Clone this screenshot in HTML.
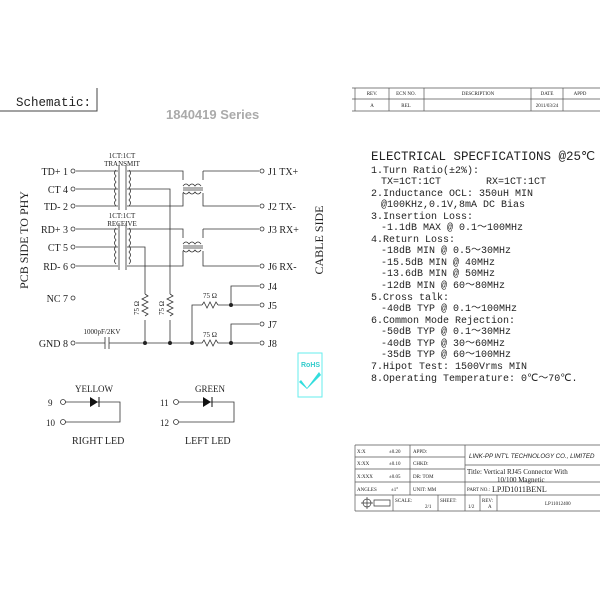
<!DOCTYPE html>
<html><head><style>body{margin:0;background:#fff}svg{display:block}text{font-family:"Liberation Serif",serif;fill:#222}text.m{font-family:"Liberation Mono",monospace}</style></head><body>
<svg width="600" height="600" viewBox="0 0 600 600" xmlns="http://www.w3.org/2000/svg">
<path d="M0 111 H97 V88" stroke="#444" fill="none"/>
<text class="m" x="16" y="106" font-size="12.5">Schematic:</text>
<text x="166" y="119" font-size="13" font-weight="bold" style="fill:#aaa;font-family:'Liberation Sans',sans-serif">1840419 Series</text>
<g stroke="#555" fill="none" stroke-width="0.7">
<path d="M352 88 H600 M352 99 H600 M352 111 H600 M355 88V111 M389 88V111 M424 88V111 M531 88V111 M563 88V111"/>
</g>
<g font-size="5" text-anchor="middle"><text x="372" y="95">REV.</text><text x="406" y="95">ECN NO.</text><text x="478" y="95">DESCRIPTION</text><text x="547" y="95">DATE</text><text x="580" y="95">APPD</text>
<text x="372" y="107">A</text><text x="406" y="107">REL</text><text x="547" y="107">2011/03/24</text></g>
<g stroke="#333" fill="none" stroke-width="0.8">
<path d="M76 171H118 M76 189H118 M76 206H118 M76 229H118 M76 247H118 M76 266H118"/>
<path d="M127 171H183V180 M127 189H170V294 M170 320V343 M127 206H183V193 M203 171V180 M203 171H259 M203 193V206H259"/>
<path d="M127 229H183V238 M127 266H183V251 M203 229V238 M203 229H259 M203 251V266H259 M127 247H145V294 M145 320V343"/>
<path d="M76 343H105 M109 343H200 M220 343H259 M192 343V305H202 M218 305H259 M231 305V286H259 M231 343V324H259"/>
<path d="M105 337V349 M109 337V349"/>
<path d="M119 165V210 M126 165V210 M119 223V270 M126 223V270 M183 188H203 M183 190H203 M183 246H203 M183 248H203"/>
<path d="M116 170q-3 3 0 6q-3 3 0 6q-3 3 0 6q-3 3 0 6q-3 3 0 6q-3 3 0 6 M129 170q3 3 0 6q3 3 0 6q3 3 0 6q3 3 0 6q3 3 0 6q3 3 0 6"/>
<path d="M116 228q-3 3 0 6q-3 3 0 6q-3 3 0 6q-3 3 0 6q-3 3 0 6q-3 3 0 6 M129 228q3 3 0 6q3 3 0 6q3 3 0 6q3 3 0 6q3 3 0 6q3 3 0 6"/>
<path d="M183 186q3-4 6 0q3-4 6 0q3-4 6 0 M183 192q3 4 6 0q3 4 6 0q3 4 6 0 M183 244q3-4 6 0q3-4 6 0q3-4 6 0 M183 250q3 4 6 0q3 4 6 0q3 4 6 0"/>
<path d="M145 294l3 2l-6 3l6 3l-6 3l6 3l-6 3l6 3l-3 2 M170 294l3 2l-6 3l6 3l-6 3l6 3l-6 3l6 3l-3 2"/>
<path d="M202 305l2-3l3 6l3-6l3 6l3-6l2 3 M200 343h2l2-3l3 6l3-6l3 6l3-6l2 3h2"/>
</g>
<g fill="#222"><circle cx="145" cy="343" r="2"/><circle cx="170" cy="343" r="2"/><circle cx="192" cy="343" r="2"/><circle cx="231" cy="343" r="2"/><circle cx="231" cy="305" r="2"/></g>
<g fill="#fff" stroke="#333" stroke-width="0.8">
<circle cx="73" cy="171" r="2"/><circle cx="73" cy="189" r="2"/><circle cx="73" cy="206" r="2"/><circle cx="73" cy="229" r="2"/><circle cx="73" cy="247" r="2"/><circle cx="73" cy="266" r="2"/><circle cx="73" cy="298" r="2"/><circle cx="73" cy="343" r="2"/>
<circle cx="262" cy="171" r="2"/><circle cx="262" cy="206" r="2"/><circle cx="262" cy="229" r="2"/><circle cx="262" cy="266" r="2"/><circle cx="262" cy="286" r="2"/><circle cx="262" cy="305" r="2"/><circle cx="262" cy="324" r="2"/><circle cx="262" cy="343" r="2"/>
</g>
<g font-size="10" text-anchor="end"><text x="68" y="175">TD+ 1</text><text x="68" y="193">CT 4</text><text x="68" y="210">TD- 2</text><text x="68" y="233">RD+ 3</text><text x="68" y="251">CT 5</text><text x="68" y="270">RD- 6</text><text x="68" y="302">NC 7</text><text x="68" y="347">GND 8</text></g>
<g font-size="10"><text x="268" y="175">J1 TX+</text><text x="268" y="210">J2 TX-</text><text x="268" y="233">J3 RX+</text><text x="268" y="270">J6 RX-</text><text x="268" y="290">J4</text><text x="268" y="309">J5</text><text x="268" y="328">J7</text><text x="268" y="347">J8</text></g>
<g font-size="7" text-anchor="middle"><text x="122" y="158">1CT:1CT</text><text x="122" y="166">TRANSMIT</text><text x="122" y="218">1CT:1CT</text><text x="122" y="226">RECEIVE</text>
<text x="210" y="298">75 Ω</text><text x="210" y="337">75 Ω</text><text x="102" y="334">1000pF/2KV</text></g>
<text font-size="7" transform="translate(139 308) rotate(-90)" text-anchor="middle">75 Ω</text>
<text font-size="7" transform="translate(164 308) rotate(-90)" text-anchor="middle">75 Ω</text>
<text font-size="12" transform="translate(28 240) rotate(-90)" text-anchor="middle">PCB SIDE TO PHY</text>
<text font-size="12" transform="translate(323 240) rotate(-90)" text-anchor="middle">CABLE SIDE</text>
<g stroke="#333" fill="none" stroke-width="0.8">
<path d="M65 402H120V422H65 M179 402H234V422H179"/></g>
<g fill="#fff" stroke="#333" stroke-width="0.8"><circle cx="63" cy="402" r="2.5"/><circle cx="63" cy="422" r="2.5"/><circle cx="176" cy="402" r="2.5"/><circle cx="176" cy="422" r="2.5"/></g>
<path d="M90 397V407L98 402Z M203 397V407L211 402Z" fill="#111"/>
<path d="M99 397V407 M212 397V407" stroke="#111"/>
<g font-size="9"><text x="75" y="392">YELLOW</text><text x="195" y="392">GREEN</text><text x="48" y="406">9</text><text x="46" y="426">10</text><text x="160" y="406">11</text><text x="160" y="426">12</text></g>
<g font-size="10"><text x="72" y="444">RIGHT LED</text><text x="185" y="444">LEFT LED</text></g>
<rect x="298" y="353" width="24" height="44" fill="#fff" stroke="#6ee" stroke-width="1"/>
<text x="301" y="367" font-size="7" font-weight="bold" style="fill:#3cc;font-family:'Liberation Sans',sans-serif">RoHS</text>
<path d="M301 380l6 8l12-16l2 3l-14 14l-8-7z" fill="#3dd"/>
<g font-size="10">
<text class="m" x="371" y="160" font-size="12.5">ELECTRICAL SPECFICATIONS @25℃</text>
<text class="m" x="371" y="173">1.Turn Ratio(±2%):</text>
<text class="m" x="381" y="184">TX=1CT:1CT</text><text class="m" x="486" y="184">RX=1CT:1CT</text>
<text class="m" x="371" y="196">2.Inductance OCL: 350uH MIN</text>
<text class="m" x="381" y="207">@100KHz,0.1V,8mA DC Bias</text>
<text class="m" x="371" y="219">3.Insertion Loss:</text>
<text class="m" x="381" y="230">-1.1dB MAX @ 0.1～100MHz</text>
<text class="m" x="371" y="242">4.Return Loss:</text>
<text class="m" x="381" y="253">-18dB MIN @ 0.5～30MHz</text>
<text class="m" x="381" y="265">-15.5dB MIN @ 40MHz</text>
<text class="m" x="381" y="276">-13.6dB MIN @ 50MHz</text>
<text class="m" x="381" y="288">-12dB MIN @ 60～80MHz</text>
<text class="m" x="371" y="300">5.Cross talk:</text>
<text class="m" x="381" y="311">-40dB TYP @ 0.1～100MHz</text>
<text class="m" x="371" y="323">6.Common Mode Rejection:</text>
<text class="m" x="381" y="334">-50dB TYP @ 0.1～30MHz</text>
<text class="m" x="381" y="346">-40dB TYP @ 30～60MHz</text>
<text class="m" x="381" y="357">-35dB TYP @ 60～100MHz</text>
<text class="m" x="371" y="369">7.Hipot Test: 1500Vrms MIN</text>
<text class="m" x="371" y="381">8.Operating Temperature: 0℃～70℃.</text>
</g>
<g stroke="#555" fill="none" stroke-width="0.7">
<path d="M355 445H600 M355 457H465 M355 469H465 M355 482H600 M355 495H600 M355 511H600 M355 445V511 M410 445V495 M465 445V511 M465 465H600 M393 495V511 M438 495V511 M480 495V511 M497 495V511"/>
</g>
<g font-size="5"><text x="357" y="453">X:X</text><text x="389" y="453">±0.20</text><text x="413" y="453">APPD:</text>
<text x="357" y="465">X:XX</text><text x="389" y="465">±0.10</text><text x="413" y="465">CHKD:</text>
<text x="357" y="478">X:XXX</text><text x="389" y="478">±0.05</text><text x="413" y="478">DR:   TOM</text>
<text x="357" y="491">ANGLES</text><text x="391" y="491">±1°</text><text x="413" y="491">UNIT:   MM</text>
<text x="395" y="502">SCALE:</text><text x="425" y="508">2/1</text><text x="440" y="502">SHEET:</text><text x="468" y="508">1/2</text><text x="482" y="502">REV:</text><text x="488" y="508">A</text><text x="545" y="505">LP11012400</text>
<text x="467" y="491">PART NO.:</text></g>
<text x="469" y="458" font-size="6.2" font-style="italic" style="font-family:'Liberation Sans',sans-serif">LINK-PP INT'L TECHNOLOGY CO., LIMITED</text>
<g font-size="7"><text x="467" y="474">Title:  Vertical RJ45 Connector With</text><text x="497" y="482">10/100 Magnetic</text><text x="492" y="492" font-size="8">LPJD1011BENL</text></g>
<g stroke="#333" fill="none" stroke-width="0.7"><circle cx="367" cy="503" r="4"/><path d="M361 503H373 M367 497V509 M374 500H390V506H374Z"/></g>
</svg>
</body></html>
